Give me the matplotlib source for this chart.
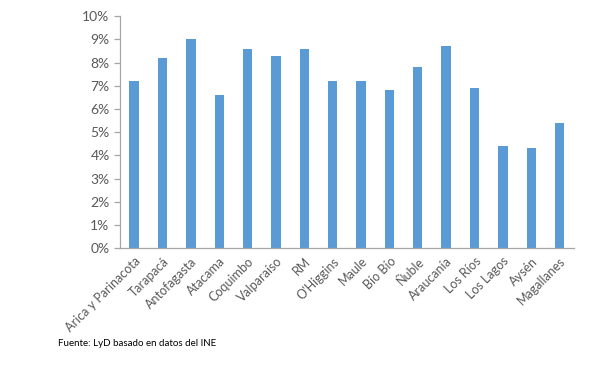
import matplotlib
matplotlib.use("Agg")
from matplotlib import pyplot as plt
from matplotlib.ticker import FuncFormatter

regiones = ["Arica y Parinacota", "Tarapacá", "Antofagasta", "Atacama", "Coquimbo",
            "Valparaíso", "RM", "O'Higgins", "Maule", "Bío Bío", "Ñuble",
            "Araucanía", "Los Ríos", "Los Lagos", "Aysén", "Magallanes"]
tasa = [7.2, 8.2, 9.0, 6.6, 8.6, 8.3, 8.6, 7.2, 7.2, 6.8, 7.8, 8.7, 6.9, 4.4, 4.3, 5.4]
yticks = list(range(0, 11))

plt.rcParams['font.family'] = ['Lato', 'DejaVu Sans']

fig = plt.figure(figsize=(5.97, 3.67), dpi=100)
ax = fig.add_axes([0.201, 0.324, 0.76, 0.632])

ax.bar(range(len(regiones)), tasa, width=0.33, color='#5B9BD5')
ax.set_xlim(-0.5, len(regiones) - 0.5)
ax.set_ylim(0, 10)
ax.set_yticks(yticks)
ax.yaxis.set_major_formatter(FuncFormatter(lambda v, p: f"{int(v)}%"))
ax.set_xticks(range(len(regiones)))
ax.set_xticklabels(regiones, rotation=45, ha='right', rotation_mode='anchor')

for s in ['top', 'right']:
    ax.spines[s].set_visible(False)
for s in ['left', 'bottom']:
    ax.spines[s].set_color('#A6A6A6')
    ax.spines[s].set_linewidth(0.9)
ax.tick_params(axis='y', colors='#A6A6A6', labelcolor='#595959', labelsize=10, length=4, width=0.9)
ax.tick_params(axis='x', length=0, labelcolor='#595959', labelsize=9, pad=5)

fig.text(0.097, 0.058, "Fuente: LyD basado en datos del INE", fontsize=7, color='black')

fig.savefig("out.png", dpi=100)
